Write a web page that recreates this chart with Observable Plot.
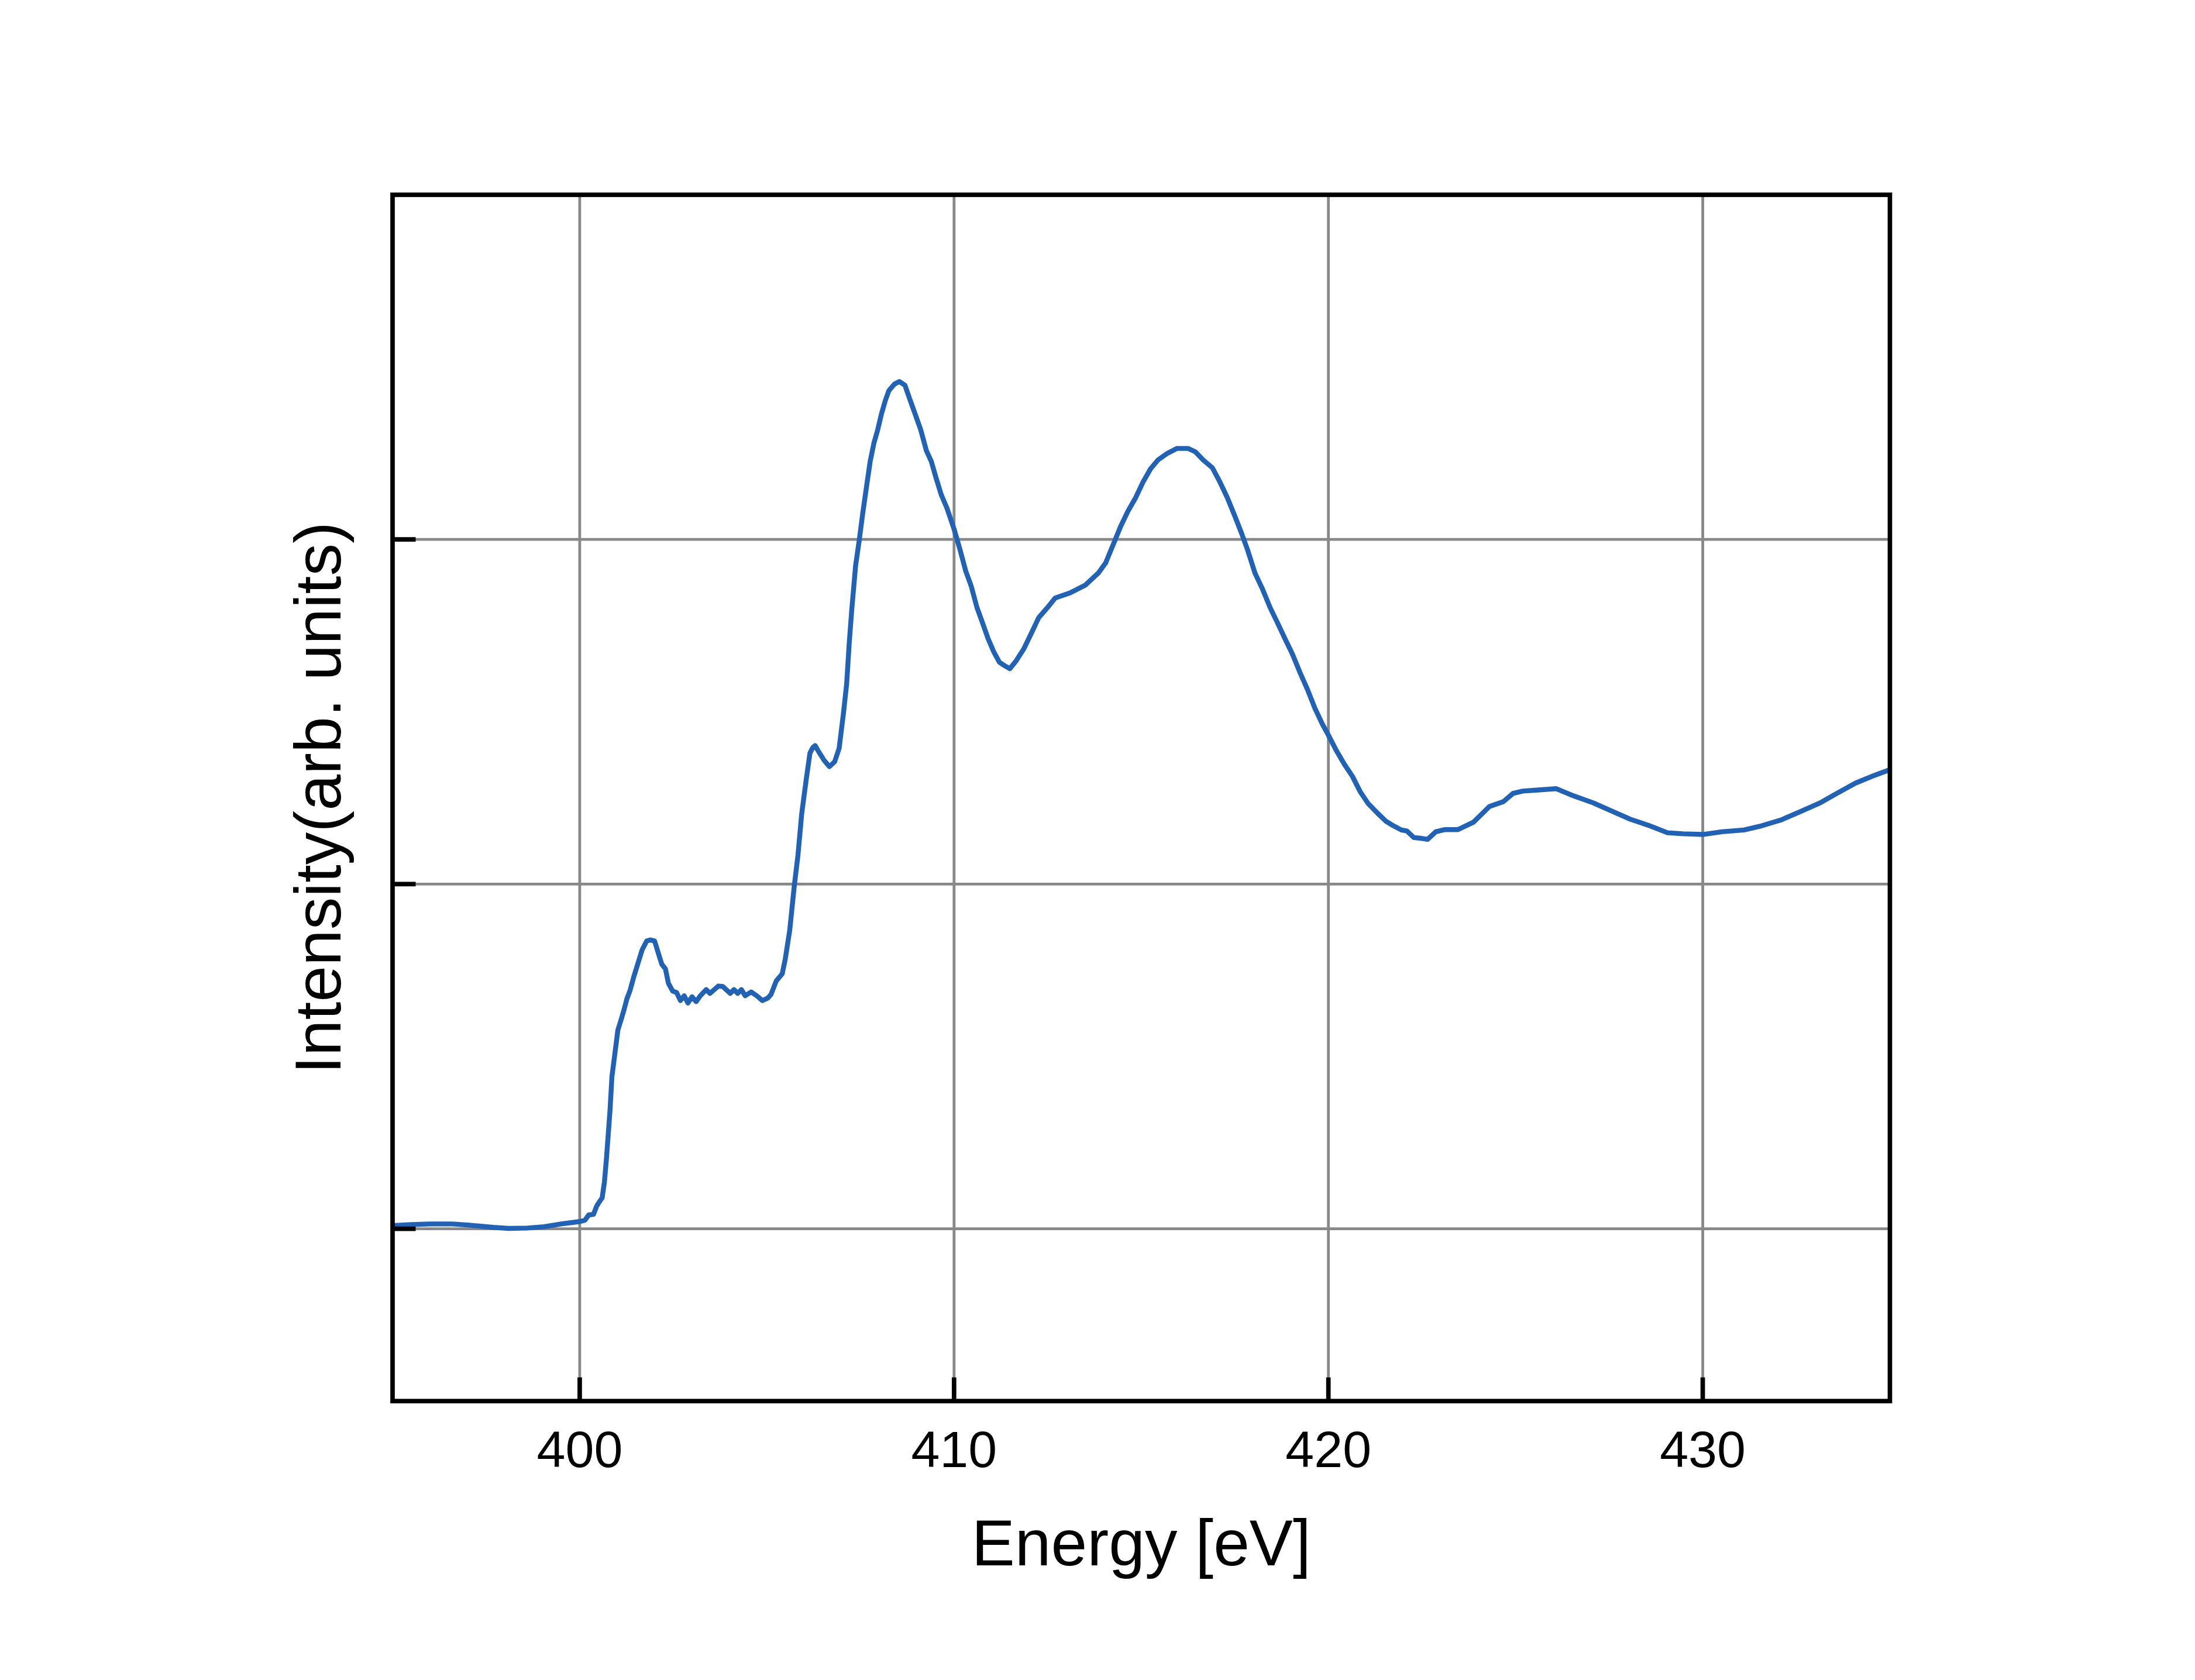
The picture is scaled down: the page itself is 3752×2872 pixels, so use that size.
<!DOCTYPE html>
<html>
<head>
<meta charset="utf-8">
<script src="https://cdn.jsdelivr.net/npm/d3@7"></script>
<script src="https://cdn.jsdelivr.net/npm/@observablehq/plot@0.6"></script>
<style>
  html, body { margin: 0; padding: 0; background: #ffffff; }
  #chart svg { display: block; }
</style>
</head>
<body>
<div id="chart"></div>
<script>
// Energy [eV]
const energy = [
  395.0, 395.5, 396.0, 396.6, 397.0, 397.7, 398.1, 398.6, 399.05, 399.5,
  400.0, 400.14, 400.24, 400.37, 400.45, 400.53, 400.60, 400.66, 400.71, 400.76,
  400.81, 400.86, 400.94, 401.02, 401.10, 401.18, 401.26, 401.34, 401.45, 401.55,
  401.67, 401.79, 401.89, 402.0, 402.11, 402.19, 402.29, 402.37, 402.48, 402.59,
  402.69, 402.79, 402.89, 403.0, 403.11, 403.22, 403.38, 403.48, 403.70, 403.82,
  404.02, 404.12, 404.22, 404.32, 404.42, 404.58, 404.74, 404.88, 405.02, 405.11,
  405.25, 405.41, 405.49, 405.61, 405.73, 405.83, 405.93, 406.05, 406.15, 406.23,
  406.29, 406.39, 406.53, 406.67, 406.81, 406.93, 407.05, 407.13, 407.20, 407.27,
  407.37, 407.47, 407.56, 407.66, 407.76, 407.86, 407.96, 408.06, 408.16, 408.26,
  408.41, 408.54, 408.69, 408.81, 408.96, 409.11, 409.26, 409.39, 409.51, 409.66,
  409.81, 410.0, 410.16, 410.31, 410.46, 410.61, 410.76, 410.91, 411.06, 411.21,
  411.36, 411.49, 411.66, 411.86, 412.06, 412.26, 412.50, 412.70, 413.10, 413.50,
  413.85, 414.05, 414.25, 414.45, 414.65, 414.85, 415.05, 415.25, 415.45, 415.70,
  415.95, 416.25, 416.45, 416.65, 416.90, 417.10, 417.30, 417.50, 417.69, 417.84,
  418.04, 418.24, 418.44, 418.64, 418.84, 419.04, 419.24, 419.44, 419.64, 419.84,
  420.0, 420.22, 420.43, 420.64, 420.85, 421.06, 421.32, 421.53, 421.74, 421.95,
  422.10, 422.28, 422.47, 422.65, 422.87, 423.10, 423.46, 423.88, 424.30, 424.67,
  424.93, 425.19, 425.61, 426.08, 426.55, 427.07, 427.59, 428.07, 428.54, 429.06,
  429.48, 430.0, 430.52, 431.10, 431.57, 432.09, 432.62, 433.14, 433.56, 434.08,
  434.60, 435.0
];

// Intensity (arb. units)
const intensity = [
  0.009, 0.012, 0.014, 0.014, 0.011, 0.004, 0.001, 0.002, 0.006, 0.014,
  0.021, 0.025, 0.040, 0.042, 0.065, 0.079, 0.090, 0.136, 0.198, 0.271,
  0.345, 0.441, 0.509, 0.577, 0.605, 0.634, 0.667, 0.690, 0.733, 0.768,
  0.810, 0.835, 0.838, 0.835, 0.796, 0.768, 0.754, 0.712, 0.690, 0.685,
  0.662, 0.676, 0.655, 0.673, 0.659, 0.676, 0.694, 0.683, 0.704, 0.703,
  0.683, 0.694, 0.683, 0.694, 0.676, 0.687, 0.675, 0.662, 0.669, 0.680,
  0.719, 0.740, 0.782, 0.866, 0.993, 1.084, 1.204, 1.303, 1.380, 1.397,
  1.402, 1.383, 1.359, 1.341, 1.355, 1.394, 1.500, 1.580, 1.700, 1.800,
  1.924, 2.000, 2.076, 2.152, 2.227, 2.280, 2.318, 2.364, 2.402, 2.432,
  2.451, 2.458, 2.447, 2.409, 2.364, 2.318, 2.258, 2.227, 2.182, 2.129,
  2.091, 2.030, 1.970, 1.909, 1.864, 1.803, 1.758, 1.712, 1.674, 1.644,
  1.633, 1.625, 1.648, 1.682, 1.727, 1.773, 1.803, 1.830, 1.845, 1.867,
  1.902, 1.932, 1.985, 2.038, 2.083, 2.121, 2.167, 2.205, 2.231, 2.250,
  2.264, 2.264, 2.254, 2.231, 2.208, 2.167, 2.121, 2.068, 2.015, 1.970,
  1.902, 1.856, 1.803, 1.758, 1.712, 1.667, 1.614, 1.565, 1.510, 1.464,
  1.432, 1.386, 1.347, 1.313, 1.268, 1.234, 1.205, 1.183, 1.169, 1.157,
  1.154, 1.135, 1.133, 1.130, 1.152, 1.158, 1.158, 1.180, 1.225, 1.239,
  1.263, 1.270, 1.273, 1.277, 1.256, 1.236, 1.211, 1.188, 1.171, 1.149,
  1.146, 1.144, 1.152, 1.157, 1.169, 1.186, 1.211, 1.236, 1.262, 1.293,
  1.316, 1.332
];

const xTicks = [400, 410, 420, 430];
const yTicks = [0, 1, 2];
const xTitle = "Energy [eV]";
const yTitle = "Intensity(arb. units)";

const data = energy.map((e, i) => ({energy: e, intensity: intensity[i]}));

const chart = Plot.plot({
  width: 3752,
  height: 2872,
  marginLeft: 670.5,
  marginRight: 522,
  marginTop: 332.5,
  marginBottom: 477.3,
  x: {domain: [395, 435]},
  y: {domain: [-0.5, 3]},
  style: {
    fontFamily: "'Liberation Sans', Arial, Helvetica, sans-serif",
    background: "#ffffff",
    color: "#000000",
    overflow: "visible"
  },
  marks: [
    Plot.gridX(xTicks, {stroke: "#888888", strokeOpacity: 1, strokeWidth: 4.8}),
    Plot.gridY(yTicks, {stroke: "#888888", strokeOpacity: 1, strokeWidth: 4.8}),
    Plot.line(data, {x: "energy", y: "intensity", stroke: "#2262B5", strokeWidth: 8.4, strokeLinejoin: "round", strokeLinecap: "butt"}),
    // inward tick marks
    Plot.axisX(xTicks, {anchor: "bottom", tickSize: 40, dy: -40, fill: "none", stroke: "#000000", strokeWidth: 7.7, label: null}),
    Plot.axisY(yTicks, {anchor: "left", tickSize: 40, dx: 40, fill: "none", stroke: "#000000", strokeWidth: 7.7, label: null}),
    // tick labels
    Plot.axisX(xTicks, {anchor: "bottom", tickSize: 0, tickPadding: 50, fontSize: 88, fill: "#000000", label: null}),
    // axis titles
    Plot.axisX([], {anchor: "bottom", tickSize: 0, fontSize: 111, fill: "#000000", label: xTitle, labelAnchor: "center", labelOffset: 281, labelArrow: "none"}),
    Plot.axisY([], {anchor: "left", tickSize: 0, fontSize: 111, fill: "#000000", label: yTitle, labelAnchor: "center", labelOffset: 168, labelArrow: "none"}),
    Plot.frame({stroke: "#000000", strokeWidth: 7.7})
  ]
});

document.getElementById("chart").appendChild(chart);
</script>
</body>
</html>
